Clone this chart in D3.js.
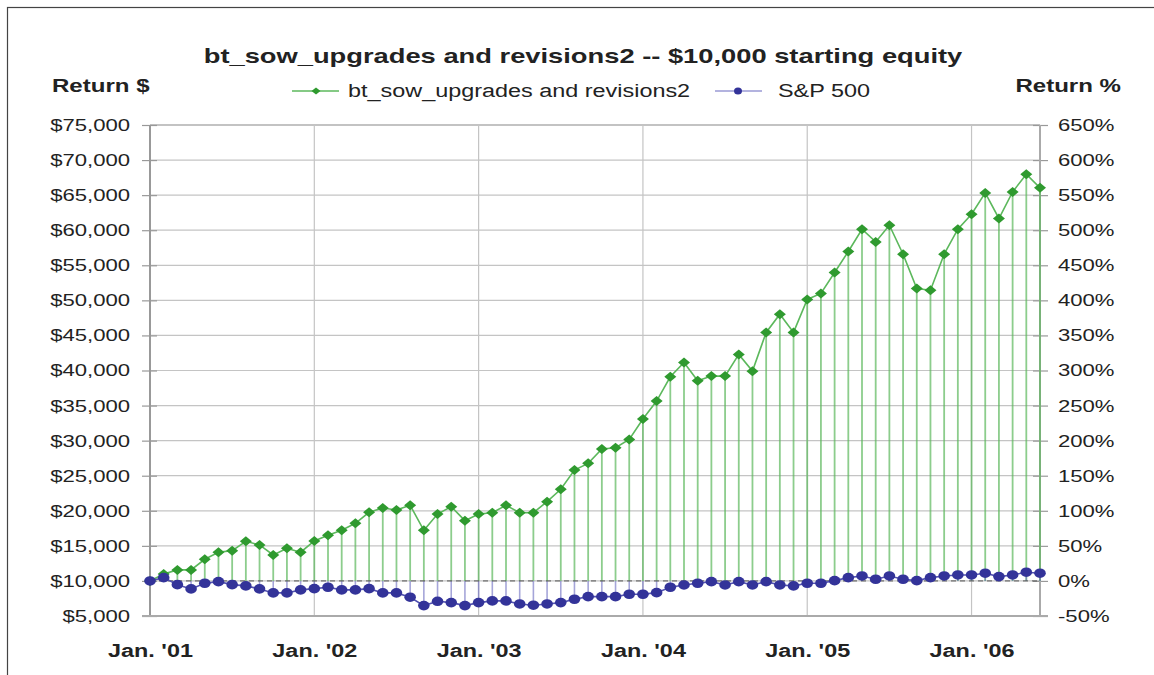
<!DOCTYPE html>
<html>
<head>
<meta charset="utf-8">
<script src="https://cdn.jsdelivr.net/npm/d3@7/dist/d3.min.js"></script>
<style>
  body { margin: 0; background: #fff; }
  text { font-family: "Liberation Sans", Arial, sans-serif; fill: #222; }
</style>
</head>
<body>
<svg id="chart" width="1154" height="675"></svg>
<script>
// maandelijkse eindwaarden, jan 2001 t/m jun 2006
var equity = [
  10000, 11000, 11570, 11570, 13090, 14090, 14320, 15650, 15130, 13700, 14650, 14090,
  15700, 16500, 17220, 18220, 19790, 20400, 20110, 20780, 17220, 19540, 20590, 18590,
  19540, 19730, 20780, 19730, 19730, 21300, 23060, 25810, 26760, 28800, 28990, 30180,
  33080, 35640, 39100, 41150, 38530, 39200, 39200, 42290, 39910, 45430, 48030, 45430,
  50130, 50980, 53970, 56970, 60140, 58330, 60710, 56580, 51690, 51450, 56580, 60140,
  62280, 65320, 61670, 65460, 67990, 66040
];
var sp500 = [
  10000, 10470, 9470, 8860, 9670, 9900, 9470, 9290, 8860, 8290, 8290, 8720,
  8900, 9100, 8720, 8720, 8900, 8290, 8290, 7680, 6480, 7100, 6910, 6480,
  6910, 7150, 7150, 6720, 6540, 6720, 6910, 7390, 7760, 7760, 7760, 8100,
  8100, 8330, 9100, 9430, 9670, 9900, 9430, 9900, 9430, 9900, 9430, 9290,
  9670, 9670, 10040, 10470, 10710, 10240, 10710, 10240, 10040, 10470, 10710, 10850,
  10850, 11100, 10620, 10850, 11240, 11100
];
var yearLabels = ["Jan. '01", "Jan. '02", "Jan. '03", "Jan. '04", "Jan. '05", "Jan. '06"];
var seriesNames = ["bt_sow_upgrades and revisions2", "S&P 500"];
var startEquity = 10000;

var titel = "bt_sow_upgrades and revisions2 -- $10,000 starting equity";

// afmetingen
var marge = {links: 150, rechts: 1040, boven: 125, beneden: 616};
var rek = 1.3; // het origineel is horizontaal uitgerekt

var svg = d3.select("#chart");

var x = d3.scaleLinear().domain([0, equity.length - 1]).range([marge.links, marge.rechts]);
var y = d3.scaleLinear().domain([5000, 75000]).range([marge.beneden, marge.boven]);
var yPct = d3.scaleLinear().domain([-0.5, 6.5]).range([marge.beneden, marge.boven]);

function rekUit(sel) {
  sel.each(function() {
    var w = this.getComputedTextLength();
    d3.select(this).attr("textLength", w * rek).attr("lengthAdjust", "spacingAndGlyphs");
  });
}

// kader rond de grafiek
svg.append("rect")
   .attr("x", 7.5).attr("y", 7.5)
   .attr("width", 1160).attr("height", 680)
   .attr("fill", "none").attr("stroke", "#444").attr("stroke-width", 1.2);

// horizontale rasterlijnen
var yTicks = y.ticks(14);
svg.append("g").selectAll("line")
   .data(yTicks.filter(function(d) { return d > 5000; }))
   .enter().append("line")
   .attr("x1", marge.links).attr("x2", marge.rechts)
   .attr("y1", function(d) { return y(d); }).attr("y2", function(d) { return y(d); })
   .attr("stroke", function(d) { return d === 75000 ? "#888" : "#c4c4c4"; })
   .attr("stroke-width", 1.2);

// verticale rasterlijnen
var janIdx = yearLabels.map(function(d, i) { return i * 12; });
svg.append("g").selectAll("line")
   .data(janIdx.slice(1))
   .enter().append("line")
   .attr("x1", function(d) { return x(d); }).attr("x2", function(d) { return x(d); })
   .attr("y1", marge.boven).attr("y2", marge.beneden)
   .attr("stroke", "#c4c4c4").attr("stroke-width", 1.2);

// assen
var asLinks = d3.axisLeft(y).tickValues(yTicks).tickSize(8).tickPadding(12)
   .tickFormat(d3.format("$,"));
var gL = svg.append("g")
   .attr("transform", "translate(" + marge.links + ",0)")
   .call(asLinks);
gL.select(".domain").remove();
gL.selectAll(".tick line").attr("x2", -8).attr("x1", 7).attr("stroke", "#999").attr("stroke-width", 1.2);
gL.selectAll("text").attr("font-size", "17px").attr("fill", "#222")
   .style("font-family", "Liberation Sans, Arial, sans-serif");
rekUit(gL.selectAll("text"));

var asRechts = d3.axisRight(yPct).tickValues(d3.range(-0.5, 6.51, 0.5)).tickSize(8).tickPadding(10)
   .tickFormat(function(d) { return Math.round(d * 100) + "%"; });
var gR = svg.append("g")
   .attr("transform", "translate(" + marge.rechts + ",0)")
   .call(asRechts);
gR.select(".domain").remove();
gR.selectAll(".tick line").attr("x1", -7).attr("stroke", "#999").attr("stroke-width", 1.2);
gR.selectAll("text").attr("font-size", "17px").attr("fill", "#222")
   .style("font-family", "Liberation Sans, Arial, sans-serif");
rekUit(gR.selectAll("text"));

var asOnder = d3.axisBottom(x).tickValues(janIdx).tickSize(0).tickPadding(28)
   .tickFormat(function(d, i) { return yearLabels[i]; });
var gB = svg.append("g")
   .attr("transform", "translate(0," + marge.beneden + ")")
   .call(asOnder);
gB.select(".domain").remove();
gB.selectAll("text").attr("font-size", "18px").attr("font-weight", "bold").attr("fill", "#222")
   .style("font-family", "Liberation Sans, Arial, sans-serif");
rekUit(gB.selectAll("text"));

// aslijnen
svg.append("line")
   .attr("x1", marge.links).attr("x2", marge.links)
   .attr("y1", marge.boven).attr("y2", marge.beneden + 1)
   .attr("stroke", "#999").attr("stroke-width", 2);
svg.append("line")
   .attr("x1", marge.rechts).attr("x2", marge.rechts)
   .attr("y1", marge.boven).attr("y2", marge.beneden + 1)
   .attr("stroke", "#aaa").attr("stroke-width", 2);
svg.append("line")
   .attr("x1", marge.links - 8).attr("x2", marge.rechts + 8)
   .attr("y1", marge.beneden).attr("y2", marge.beneden)
   .attr("stroke", "#aaa").attr("stroke-width", 2);

// verticale lijnen naar de startwaarde
svg.append("g").selectAll("line")
   .data(equity)
   .enter().append("line")
   .attr("x1", function(d, i) { return x(i); }).attr("x2", function(d, i) { return x(i); })
   .attr("y1", function(d) { return y(d); }).attr("y2", y(startEquity))
   .attr("stroke", "#5cb85c").attr("stroke-width", 1.8).attr("opacity", 0.7);
svg.append("g").selectAll("line")
   .data(sp500)
   .enter().append("line")
   .attr("x1", function(d, i) { return x(i); }).attr("x2", function(d, i) { return x(i); })
   .attr("y1", function(d) { return y(d); }).attr("y2", y(startEquity))
   .attr("stroke", "#6b6bc0").attr("stroke-width", 1.6).attr("opacity", 0.6);

// streepjeslijn op 0%
svg.append("line")
   .attr("x1", marge.links).attr("x2", marge.rechts)
   .attr("y1", y(startEquity)).attr("y2", y(startEquity))
   .attr("stroke", "#555").attr("stroke-width", 1).attr("stroke-dasharray", "5,4");

// lijnen
var lijn = d3.line()
   .x(function(d, i) { return x(i); })
   .y(function(d) { return y(d); });
svg.append("path").datum(equity).attr("d", lijn)
   .attr("fill", "none").attr("stroke", "#5cb85c").attr("stroke-width", 1.6);
svg.append("path").datum(sp500).attr("d", lijn)
   .attr("fill", "none").attr("stroke", "#5252b0").attr("stroke-width", 1.6);

// markers
var ruit = "M0,-5L6,0L0,5L-6,0Z";
svg.append("g").selectAll("path")
   .data(equity)
   .enter().append("path")
   .attr("d", ruit)
   .attr("transform", function(d, i) { return "translate(" + x(i) + "," + y(d) + ")"; })
   .attr("fill", "#2f9a2f");
svg.append("g").selectAll("ellipse")
   .data(sp500)
   .enter().append("ellipse")
   .attr("cx", function(d, i) { return x(i); })
   .attr("cy", function(d) { return y(d); })
   .attr("rx", 5.8).attr("ry", 4.8)
   .attr("fill", "#333399");

// titel
svg.append("text")
   .attr("x", 583).attr("y", 63)
   .attr("text-anchor", "middle")
   .attr("font-size", "21px").attr("font-weight", "bold")
   .text(titel)
   .call(rekUit);

// astitels
svg.append("text")
   .attr("x", 52).attr("y", 92)
   .attr("font-size", "18.5px").attr("font-weight", "bold")
   .text("Return $")
   .call(rekUit);
svg.append("text")
   .attr("x", 1121).attr("y", 92)
   .attr("text-anchor", "end")
   .attr("font-size", "18.5px").attr("font-weight", "bold")
   .text("Return %")
   .call(rekUit);

// legenda
var legenda = [
  {naam: seriesNames[0], x: 292, kleur: "#5cb85c", marker: "#2f9a2f", vorm: "ruit"},
  {naam: seriesNames[1], x: 715, kleur: "#9a9ad4", marker: "#333399", vorm: "rond"}
];
var leg = svg.append("g").selectAll("g")
   .data(legenda)
   .enter().append("g")
   .attr("transform", function(d) { return "translate(" + d.x + ",91)"; });
leg.append("line")
   .attr("x1", 0).attr("x2", 47)
   .attr("stroke", function(d) { return d.kleur; }).attr("stroke-width", 1.5);
leg.each(function(d) {
  var g = d3.select(this);
  if (d.vorm === "ruit") {
    g.append("path").attr("d", "M0,-3.5L4.5,0L0,3.5L-4.5,0Z")
     .attr("transform", "translate(24,0)").attr("fill", d.marker);
  } else {
    g.append("ellipse").attr("cx", 23).attr("cy", 0).attr("rx", 4).attr("ry", 3.5)
     .attr("fill", d.marker);
  }
});
leg.append("text")
   .attr("x", function(d, i) { return i === 0 ? 56 : 63; })
   .attr("y", 6)
   .attr("font-size", "18px")
   .text(function(d) { return d.naam; })
   .call(rekUit);
</script>
</body>
</html>
